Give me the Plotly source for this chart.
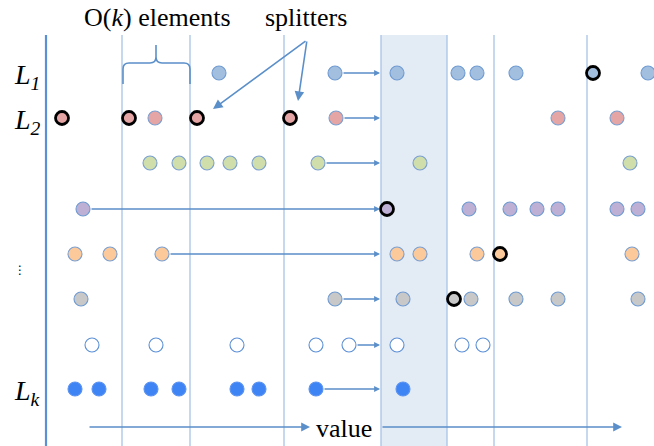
import plotly.graph_objects as go

# ---- data (positions along the "value" axis, in value units) ----
row_names = ["L1", "L2", "L3", "L4", "L5", "L6", "L7", "Lk"]
row_levels = [73, 118, 163, 209, 254, 299, 345, 389]
row_values = [
    [219, 335, 397, 458, 477, 516, 593, 648],
    [62, 129, 155, 197, 290, 336, 558, 617],
    [150, 179, 207, 230, 259, 318, 420, 630],
    [83, 387, 469, 510, 537, 558, 617, 638],
    [75, 110, 162, 397, 420, 477, 500, 632],
    [81, 335, 403, 454, 471, 516, 558, 638],
    [92, 156, 237, 316, 349, 397, 462, 483],
    [75, 99, 151, 179, 237, 259, 316, 403],
]
# which elements of each row are splitters (bold outline)
row_splitters = [
    [593],
    [62, 129, 197, 290],
    [],
    [387],
    [500],
    [454],
    [],
    [],
]
# element of each row whose pointer jumps to the highlighted bucket
row_jump_from = [335, 336, 318, 83, 162, 335, 349, 316]
row_fill = ["#a3bfe0", "#e5a5a5", "#cfdeab", "#bdb0d4", "#fcc99b",
            "#c8c8c8", "#ffffff", "#3f84f5"]
row_line = ["#6f9bd2", "#7a9fd0", "#7a9fd0", "#6f9bd2", "#7a9fd0",
            "#6f9bd2", "#5b8fd6", "#5a92f2"]
splitter_lines = [122, 190, 284, 381, 447, 494, 587]
bucket_lo, bucket_hi = 381, 447
row_labels = ["<i>L</i><sub><i>1</i></sub>", "<i>L</i><sub><i>2</i></sub>",
              "", "", "⋮", "", "", "<i>L</i><sub><i>k</i></sub>"]

W, H = 654, 446
fig = go.Figure()

blue = "#5b8fc9"
thin = "#a8c3e6"

shapes = []
# highlighted bucket
shapes.append(dict(type="rect", xref="x", yref="y", x0=bucket_lo, x1=bucket_hi,
                   y0=35, y1=H, fillcolor="#e3ebf5", line=dict(width=0), layer="below"))
for xv in splitter_lines:
    shapes.append(dict(type="line", xref="x", yref="y", x0=xv, x1=xv, y0=35, y1=H,
                       line=dict(color=thin, width=1.3), layer="below"))
# left axis line
shapes.append(dict(type="line", xref="x", yref="y", x0=46, x1=46, y0=35, y1=H,
                   line=dict(color="#5b8fd6", width=2.2), layer="below"))
# brace
brace = ("M 123,84 L 123,69 Q 123,63 129,63 L 150,63 Q 156,63 156,57 L 156,45 "
         "M 156,57 Q 156,63 162,63 L 184,63 Q 190,63 190,69 L 190,84")
shapes.append(dict(type="path", xref="x", yref="y", path=brace,
                   line=dict(color=blue, width=1.6)))

annotations = []
# jump arrows
for lvl, src in zip(row_levels, row_jump_from):
    annotations.append(dict(x=bucket_lo - 1, y=lvl, ax=src, ay=lvl, xref="x", yref="y",
                            axref="x", ayref="y", showarrow=True, arrowhead=2,
                            arrowsize=0.9, arrowwidth=1.3, arrowcolor=blue,
                            startstandoff=7, text=""))
# splitter pointer arrows
for tx, ty in [(213, 109), (298, 101)]:
    annotations.append(dict(x=tx, y=ty, ax=307, ay=40, xref="x", yref="y",
                            axref="x", ayref="y", showarrow=True, arrowhead=2,
                            arrowsize=1.2, arrowwidth=1.6, arrowcolor=blue, text=""))
# value axis arrows
for x0, x1 in [(88, 310), (381, 622)]:
    annotations.append(dict(x=x1, y=427, ax=x0, ay=427, xref="x", yref="y",
                            axref="x", ayref="y", showarrow=True, arrowhead=2,
                            arrowsize=1.1, arrowwidth=1.6, arrowcolor=blue, text=""))
serif = "Liberation Serif, Times New Roman, serif"
annotations.append(dict(x=344, y=428, xref="x", yref="y", text="value", showarrow=False,
                        font=dict(family=serif, size=26, color="black")))
annotations.append(dict(x=157, y=17, xref="x", yref="y", text="O(<i>k</i>) elements",
                        showarrow=False, font=dict(family=serif, size=26, color="black")))
annotations.append(dict(x=306, y=17, xref="x", yref="y", text="splitters",
                        showarrow=False, font=dict(family=serif, size=26, color="black")))
for lvl, lab in zip(row_levels, row_labels):
    if not lab:
        continue
    if lab == "⋮":
        annotations.append(dict(x=20, y=270, xref="x", yref="y", text=lab, showarrow=False,
                                font=dict(family="DejaVu Sans", size=12, color="black")))
    else:
        annotations.append(dict(x=27, y=lvl + 3, xref="x", yref="y", text=lab,
                                showarrow=False,
                                font=dict(family=serif, size=28, color="black")))

# points
for name, lvl, vals, sp, fc, lc in zip(row_names, row_levels, row_values,
                                        row_splitters, row_fill, row_line):
    normal = [v for v in vals if v not in sp]
    fig.add_trace(go.Scatter(x=normal, y=[lvl] * len(normal), mode="markers",
                             name=name, showlegend=False, hoverinfo="skip",
                             marker=dict(size=14, color=fc, line=dict(color=lc, width=1.1))))
    if sp:
        fig.add_trace(go.Scatter(x=sp, y=[lvl] * len(sp), mode="markers",
                                 name=name + " splitters", showlegend=False, hoverinfo="skip",
                                 marker=dict(size=13, color=fc, line=dict(color="black", width=2.8))))

fig.update_layout(width=W, height=H, autosize=False,
                  margin=dict(l=0, r=0, t=0, b=0),
                  paper_bgcolor="white", plot_bgcolor="white",
                  shapes=shapes, annotations=annotations)
fig.update_xaxes(range=[0, W], visible=False, fixedrange=True)
fig.update_yaxes(range=[H, 0], visible=False, fixedrange=True)
fig.write_html("out.html", config={"displayModeBar": False},
               post_script="document.body.style.margin='0px';document.body.style.overflow='hidden';")
